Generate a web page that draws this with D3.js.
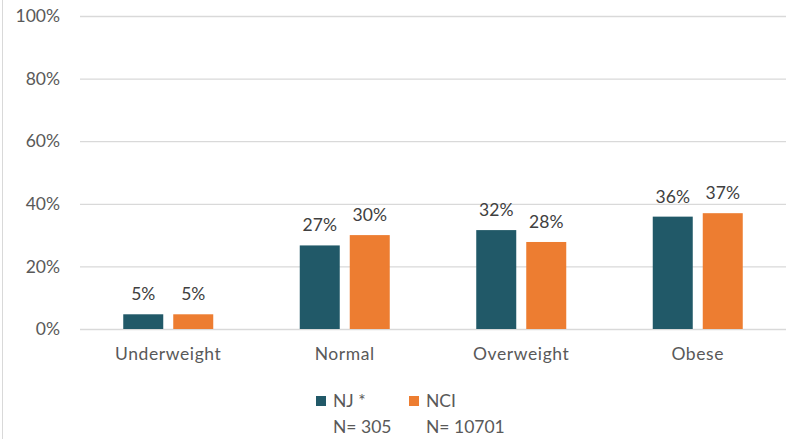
<!DOCTYPE html>
<html>
<head>
<meta charset="utf-8">
<script src="https://cdn.jsdelivr.net/npm/d3@7"></script>
<style>
  html, body { margin: 0; padding: 0; background: #fff; }
  svg { display: block; font-family: Lato, "Open Sans", sans-serif; }
</style>
</head>
<body>
<div id="chart"></div>
<script>
const categories = ["Underweight", "Normal", "Overweight", "Obese"];
const seriesNames = ["NJ *", "NCI"];
const seriesCounts = ["N= 305", "N= 10701"];
const njValues = [4.7, 26.7, 31.6, 35.9];
const nciValues = [4.7, 30.0, 27.8, 37.0];
const njLabels = ["5%", "27%", "32%", "36%"];
const nciLabels = ["5%", "30%", "28%", "37%"];
const yTicks = [0, 20, 40, 60, 80, 100];
const colors = ["#215968", "#ED7D31"];

function renderChart() {
  const W = 788, H = 439;
  const fs = "17.5px";
  const svg = d3.select("#chart").append("svg")
    .attr("width", W).attr("height", H);

  const rows = categories.map((c, i) => ({
    cat: c,
    vals: [
      { s: seriesNames[0], v: njValues[i], label: njLabels[i] },
      { s: seriesNames[1], v: nciValues[i], label: nciLabels[i] }
    ]
  }));

  const x0 = d3.scaleBand().domain(categories).range([80, 786]);
  const groupW = 90;
  const x1 = d3.scaleBand().domain(seriesNames).range([0, groupW]).paddingInner(0.2);
  const y = d3.scaleLinear().domain([0, 100]).range([329, 16]);
  const color = d3.scaleOrdinal().domain(seriesNames).range(colors);

  // outer border (left edge visible)
  svg.append("line")
    .attr("x1", 2.5).attr("x2", 2.5).attr("y1", 0).attr("y2", H)
    .attr("stroke", "#d9d9d9").attr("stroke-width", 1);

  // gridlines + y labels
  const yAxis = svg.append("g")
    .attr("transform", "translate(80,0)")
    .call(d3.axisLeft(y).tickValues(yTicks).tickSize(-706).tickPadding(20)
      .tickFormat((d) => d + "%"))
    .call((g) => g.select(".domain").remove());
  yAxis.selectAll("line").attr("stroke", "#d9d9d9").attr("stroke-width", 1.3);
  yAxis.selectAll("text")
    .attr("fill", "#595959")
    .attr("font-size", fs)
    .attr("font-family", "Lato, 'Open Sans', sans-serif");

  // bars
  const groups = svg.selectAll(".grp")
    .data(rows)
    .join("g")
    .attr("class", "grp")
    .attr("transform", (d) => `translate(${x0(d.cat) + (x0.bandwidth() - groupW) / 2},0)`);

  groups.selectAll("rect")
    .data((d) => d.vals)
    .join("rect")
    .attr("x", (d) => x1(d.s))
    .attr("y", (d) => y(d.v))
    .attr("width", x1.bandwidth())
    .attr("height", (d) => y(0) - y(d.v))
    .attr("fill", (d) => color(d.s));

  groups.selectAll("text")
    .data((d) => d.vals)
    .join("text")
    .attr("x", (d) => x1(d.s) + x1.bandwidth() / 2)
    .attr("y", (d) => y(d.v) - 14)
    .attr("text-anchor", "middle")
    .attr("fill", "#404040")
    .attr("font-size", fs)
    .text((d) => d.label);

  // x axis labels
  const xAxis = svg.append("g")
    .attr("transform", "translate(0,329)")
    .call(d3.axisBottom(x0).tickSize(0).tickPadding(19))
    .call((g) => g.select(".domain").remove());
  xAxis.selectAll("text")
    .attr("fill", "#595959")
    .attr("font-size", fs)
    .attr("font-family", "Lato, 'Open Sans', sans-serif")
    .attr("letter-spacing", "0.6px");

  // legend
  const legend = svg.append("g");
  const lx = [316, 409];
  seriesNames.forEach((s, i) => {
    legend.append("rect")
      .attr("x", lx[i]).attr("y", 396)
      .attr("width", 10).attr("height", 10)
      .attr("fill", colors[i]);
    legend.append("text")
      .attr("x", lx[i] + 17).attr("y", 407)
      .attr("fill", "#595959").attr("font-size", fs)
      .text(s);
    legend.append("text")
      .attr("x", lx[i] + 17).attr("y", 433)
      .attr("fill", "#595959").attr("font-size", fs)
      .text(seriesCounts[i]);
  });
}

renderChart();
</script>
</body>
</html>
